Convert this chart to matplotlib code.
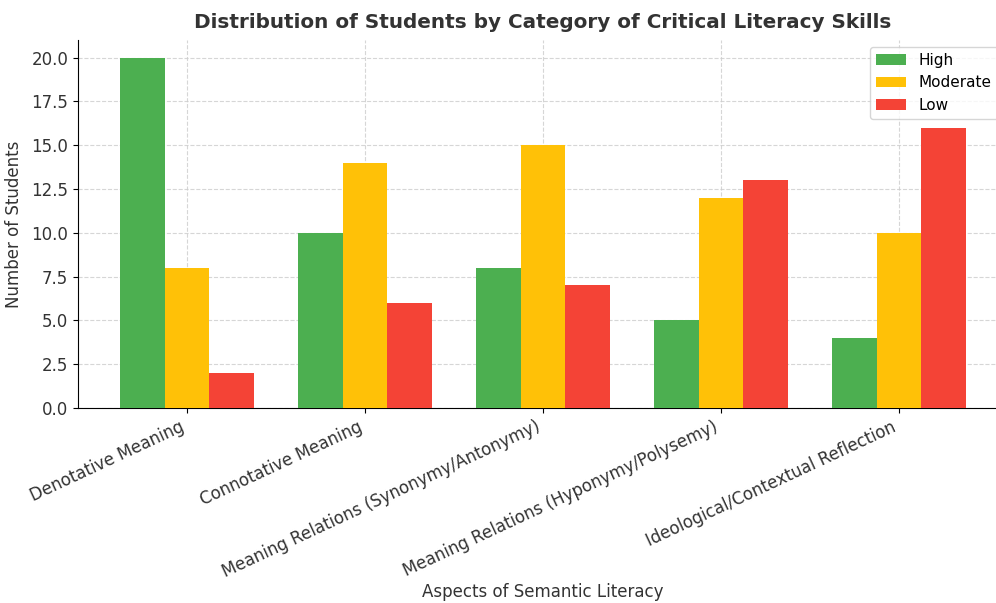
import numpy as np
import matplotlib.pyplot as plt

categories = ["Denotative Meaning", "Connotative Meaning",
              "Meaning Relations (Synonymy/Antonymy)",
              "Meaning Relations (Hyponymy/Polysemy)",
              "Ideological/Contextual Reflection"]
high = [20, 10, 8, 5, 4]
moderate = [8, 14, 15, 12, 10]
low = [2, 6, 7, 13, 16]

x = np.arange(len(categories))
width = 0.25

fig = plt.figure(figsize=(9.96, 6.03), dpi=100)
# axes runs a little past the right edge, like the cropped original
ax = fig.add_axes([78 / 996, 1 - 408 / 603, 930 / 996, 368 / 603])

ax.bar(x - width, high, width, label="High", color="#4CAF50", zorder=3)
ax.bar(x, moderate, width, label="Moderate", color="#FFC107", zorder=3)
ax.bar(x + width, low, width, label="Low", color="#F44336", zorder=3)

ax.set_xticks(x)
ax.set_xticklabels(categories, rotation=25, ha="right", fontsize=12, color="#333333")
ax.tick_params(axis="y", labelsize=12, labelcolor="#333333")
ax.set_xlabel("Aspects of Semantic Literacy", fontsize=12, color="#333333", labelpad=1)
ax.set_ylabel("Number of Students", fontsize=12, color="#333333", labelpad=6)
ax.set_title("Distribution of Students by Category of Critical Literacy Skills",
             fontsize=14.4, fontweight="bold", color="#333333", pad=9)

ax.grid(True, linestyle="--", color="#cccccc", alpha=0.8, zorder=0)
ax.spines["top"].set_visible(False)
ax.spines["right"].set_visible(False)
ax.legend(loc="upper right", fontsize=11, bbox_to_anchor=(0.997, 1.003))

fig.savefig("out.png", dpi=100)
